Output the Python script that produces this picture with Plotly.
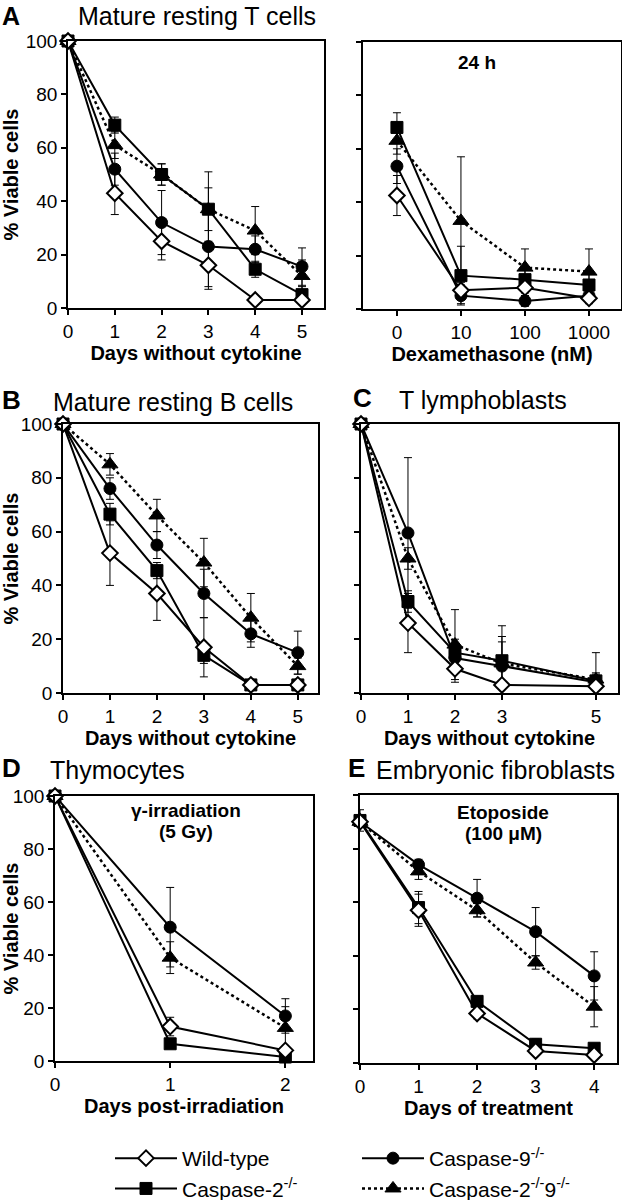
import plotly.graph_objects as go

# ---------------- data ----------------
series_names = ["Wild-type", "Caspase-2<sup>-/-</sup>", "Caspase-9<sup>-/-</sup>",
                "Caspase-2<sup>-/-</sup>9<sup>-/-</sup>"]

# Panel A (left): mature resting T cells, days without cytokine
days_A = [0, 1, 2, 3, 4, 5]
A_wt = [100, 43, 25, 16, 3, 3]
A_wt_err = [0, 8, 7, 9, 1, 1]
A_c2 = [100, 68.5, 50, 37, 14.5, 5]
A_c2_err = [0, 3, 4, 14, 3, 3]
A_c9 = [100, 52, 32, 23, 22, 15.5]
A_c9_err = [0, 6, 12, 15, 5, 7]
A_c29 = [100, 61, 50, 37, 29, 12]
A_c29_err = [0, 5, 4, 8, 9, 6]

# Panel A (right): dexamethasone, 24 h
dex_conc = ["0", "10", "100", "1000"]
Dex_wt = [42.5, 7, 8, 4]
Dex_wt_err = [7.5, 3, 3, 2]
Dex_c2 = [68, 12.5, 11, 9]
Dex_c2_err = [5.5, 11, 5, 5]
Dex_c9 = [53.5, 5, 3, 5]
Dex_c9_err = [6.5, 3, 2, 2]
Dex_c29 = [63, 33, 15.5, 14]
Dex_c29_err = [5, 24, 7, 8.5]

# Panel B: mature resting B cells
days_B = [0, 1, 2, 3, 4, 5]
B_wt = [100, 52, 37, 17, 3, 3]
B_wt_err = [0, 12, 10, 11, 1, 1]
B_c2 = [100, 66.5, 45.5, 14, 3, 3]
B_c2_err = [0, 4, 3, 3, 1, 1]
B_c9 = [100, 76, 55, 37, 22, 15]
B_c9_err = [0, 4, 5, 9, 5, 8]
B_c29 = [100, 85, 66, 48.5, 28, 10]
B_c29_err = [0, 4, 6, 9, 9, 3]

# Panel C: T lymphoblasts
days_C = [0, 1, 2, 3, 5]
C_wt = [100, 26, 9, 3, 2.5]
C_wt_err = [0, 11, 5, 1, 1]
C_c2 = [100, 34, 15, 12, 4.5]
C_c2_err = [0, 4, 5, 13, 3]
C_c9 = [100, 59.5, 13, 10, 4]
C_c9_err = [0, 28, 4, 11, 3]
C_c29 = [100, 50, 18, 11, 5]
C_c29_err = [0, 4, 13, 8, 10]

# Panel D: thymocytes, gamma-irradiation
days_D = [0, 1, 2]
D_wt = [100, 13, 4]
D_wt_err = [0, 3.5, 1]
D_c2 = [100, 6.5, 1.5]
D_c2_err = [0, 1, 1]
D_c9 = [100, 50.5, 17]
D_c9_err = [0, 15, 6.5]
D_c29 = [100, 39, 12.5]
D_c29_err = [0, 6, 8]

# Panel E: embryonic fibroblasts, etoposide
days_E = [0, 1, 2, 3, 4]
E_wt = [90, 57, 18.5, 4.5, 3]
E_wt_err = [2, 6, 2, 1, 1]
E_c2 = [90.5, 58, 23, 7, 5.5]
E_c2_err = [4, 6, 1, 2, 1]
E_c9 = [90, 74, 61.5, 49, 32.5]
E_c9_err = [2, 2, 7, 9, 9]
E_c29 = [90, 71.5, 57, 37.5, 21]
E_c29_err = [2, 3, 2.5, 2.5, 7.5]

y_ticks = [0, 20, 40, 60, 80, 100]

# ---------------- styling ----------------
W, H = 622, 1200
FONT = "Liberation Sans, Arial, Helvetica, sans-serif"


def fx(p):
    return p / W


def fy(p):
    return 1 - p / H


styles = [
    dict(symbol="diamond", fill="white", size=12, dash="solid", lw=2, rank=1, legend="legend"),
    dict(symbol="square", fill="black", size=12, dash="solid", lw=2, rank=2, legend="legend"),
    dict(symbol="circle", fill="black", size=12, dash="solid", lw=2, rank=1, legend="legend2"),
    dict(symbol="triangle-up", fill="black", size=14, dash="dot", lw=2.5, rank=2, legend="legend2"),
]
draw_order = [1, 2, 3, 0]

panels = [
    dict(x=days_A, ys=[A_wt, A_c2, A_c9, A_c29], es=[A_wt_err, A_c2_err, A_c9_err, A_c29_err],
         xd=(68, 324), yd=(41, 308), xr=[0, 5.47], xt=days_A, ylab=True,
         xtitle="Days without cytokine", cat=False),
    dict(x=dex_conc, ys=[Dex_wt, Dex_c2, Dex_c9, Dex_c29],
         es=[Dex_wt_err, Dex_c2_err, Dex_c9_err, Dex_c29_err],
         xd=(363, 621), yd=(42, 309), xr=[-0.53, 3.5], xt=None, ylab=False,
         xtitle="Dexamethasone (nM)", cat=True),
    dict(x=days_B, ys=[B_wt, B_c2, B_c9, B_c29], es=[B_wt_err, B_c2_err, B_c9_err, B_c29_err],
         xd=(63, 318), yd=(424, 693), xr=[0, 5.43], xt=days_B, ylab=True,
         xtitle="Days without cytokine", cat=False),
    dict(x=days_C, ys=[C_wt, C_c2, C_c9, C_c29], es=[C_wt_err, C_c2_err, C_c9_err, C_c29_err],
         xd=(361, 618), yd=(424, 693), xr=[0, 5.47], xt=days_C, ylab=False,
         xtitle="Days without cytokine", cat=False),
    dict(x=days_D, ys=[D_wt, D_c2, D_c9, D_c29], es=[D_wt_err, D_c2_err, D_c9_err, D_c29_err],
         xd=(55, 313), yd=(796, 1061), xr=[0, 2.24], xt=days_D, ylab=True,
         xtitle="Days post-irradiation", cat=False),
    dict(x=days_E, ys=[E_wt, E_c2, E_c9, E_c29], es=[E_wt_err, E_c2_err, E_c9_err, E_c29_err],
         xd=(360, 617), yd=(795, 1063), xr=[0, 4.39], xt=days_E, ylab=False,
         xtitle="Days of treatment", cat=False),
]

fig = go.Figure()
layout = dict(
    width=W, height=H, margin=dict(l=0, r=0, t=0, b=0, autoexpand=False),
    paper_bgcolor="white", plot_bgcolor="white",
    font=dict(family=FONT, color="black", size=19),
    showlegend=True,
)

axis_common = dict(showline=True, mirror=True, linecolor="black", linewidth=1.5,
                   ticks="outside", ticklen=5, tickwidth=1.5, tickcolor="black",
                   showgrid=False, zeroline=False, fixedrange=True, automargin=False)

for i, p in enumerate(panels):
    k = "" if i == 0 else str(i + 1)
    xa, ya = "x" + k, "y" + k
    for s in draw_order:
        st = styles[s]
        errs = [e if e > 0 else None for e in p["es"][s]]
        fig.add_trace(go.Scatter(
            x=p["x"], y=p["ys"][s], xaxis=xa, yaxis=ya,
            mode="lines+markers", cliponaxis=False,
            name=series_names[s], showlegend=(i == 0), legend=st["legend"],
            legendrank=st["rank"],
            line=dict(color="black", width=st["lw"], dash=st["dash"]),
            marker=dict(symbol=st["symbol"], size=st["size"], color=st["fill"],
                        line=dict(color="black", width=2 if s == 0 else 1)),
            error_y=dict(type="data", array=errs, color="black", thickness=1, width=4),
        ))
    xaxis = dict(axis_common, domain=[fx(p["xd"][0]), fx(p["xd"][1])], anchor=ya,
                 range=p["xr"], ticklabelstandoff=0,
                 title=dict(text=p["xtitle"], standoff=0,
                            font=dict(size=20, weight="bold")))
    if p["cat"]:
        xaxis.update(type="category", categoryorder="array", categoryarray=dex_conc)
    else:
        xaxis.update(tickvals=p["xt"])
    yaxis = dict(axis_common, domain=[fy(p["yd"][1]), fy(p["yd"][0])], anchor=xa,
                 range=[0, 100], tickvals=y_ticks, showticklabels=p["ylab"])
    if p["ylab"]:
        yaxis["title"] = dict(text="% Viable cells", standoff=4,
                              font=dict(size=20, weight="bold"))
    layout["xaxis" + k] = xaxis
    layout["yaxis" + k] = yaxis

legend_common = dict(font=dict(size=21, family=FONT), bgcolor="rgba(0,0,0,0)",
                     orientation="v", tracegroupgap=0, itemwidth=62,
                     xanchor="left", yanchor="top")
layout["legend"] = dict(legend_common, x=fx(110), y=fy(1138))
layout["legend2"] = dict(legend_common, x=fx(357), y=fy(1138))

ann = []


def add_ann(text, x, y, size, bold=False, xanchor="center"):
    ann.append(dict(text=text, x=fx(x), y=fy(y), xref="paper", yref="paper",
                    showarrow=False, xanchor=xanchor, yanchor="middle",
                    font=dict(size=size, family=FONT, weight="bold" if bold else "normal")))


add_ann("A", 0, 16, 25, True, "left")
add_ann("Mature resting T cells", 76, 16, 25, False, "left")
add_ann("B", 0, 400, 26, True, "left")
add_ann("Mature resting B cells", 51, 402, 25, False, "left")
add_ann("C", 351, 398, 26, True, "left")
add_ann("T lymphoblasts", 397, 400, 25, False, "left")
add_ann("D", 0, 768, 26, True, "left")
add_ann("Thymocytes", 48, 770, 25, False, "left")
add_ann("E", 346, 768, 26, True, "left")
add_ann("Embryonic fibroblasts", 374, 770, 25, False, "left")
add_ann("24 h", 477, 63, 19, True)
add_ann("γ-irradiation", 186, 810, 19, True)
add_ann("(5 Gy)", 186, 831, 19, True)
add_ann("Etoposide", 503, 812, 19, True)
add_ann("(100 μM)", 503, 833, 19, True)
layout["annotations"] = ann

fig.update_layout(**layout)
fig.write_html("out.html", config={"displayModeBar": False},
               post_script="document.body.style.margin='0';document.body.style.padding='0';")
